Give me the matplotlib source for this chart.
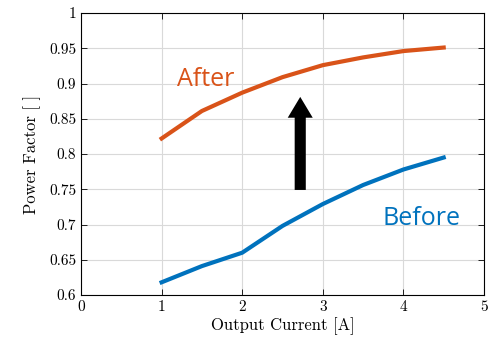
import numpy as np
import matplotlib
matplotlib.use("Agg")
import matplotlib.pyplot as plt

# data
current = [1.0, 1.5, 2.0, 2.5, 3.0, 3.5, 4.0, 4.5]
pf_before = [0.618, 0.641, 0.660, 0.698, 0.729, 0.756, 0.778, 0.795]
pf_after = [0.822, 0.861, 0.887, 0.909, 0.926, 0.937, 0.946, 0.951]
xticks = [0, 1, 2, 3, 4, 5]
yticks = [0.6, 0.65, 0.7, 0.75, 0.8, 0.85, 0.9, 0.95, 1]

blue = '#0072BD'
orange = '#D95319'

plt.rcParams['font.family'] = 'serif'
plt.rcParams['font.serif'] = ['cmr10']
plt.rcParams['axes.formatter.use_mathtext'] = True
plt.rcParams['mathtext.fontset'] = 'cm'

fig = plt.figure(figsize=(4.88, 3.41), dpi=100)
ax = fig.add_axes([81 / 488, 1 - 295 / 341, 403 / 488, 282 / 341])

ax.plot(current, pf_after, color=orange, linewidth=3, zorder=3)
ax.plot(current, pf_before, color=blue, linewidth=3, zorder=3)

ax.set_xlim(0, 5)
ax.set_ylim(0.6, 1)
ax.set_xticks(xticks)
ax.set_yticks(yticks)
ax.set_xticklabels([str(x) for x in xticks])
ax.set_yticklabels([f"{y:g}" for y in yticks])
ax.tick_params(direction='in', top=True, right=True, labelsize=11, length=4, width=0.6)
ax.grid(True, color='#d9d9d9', linewidth=0.8)
for s in ax.spines.values():
    s.set_linewidth(0.8)

ax.set_xlabel('Output Current [A]', fontsize=12, labelpad=3)
ax.set_ylabel('Power Factor [ ]', fontsize=12, labelpad=6)

# arrow showing the improvement
ax.annotate('', xy=(2.72, 0.881), xytext=(2.72, 0.749),
            arrowprops=dict(facecolor='black', edgecolor='none', width=8, headwidth=18, headlength=15),
            zorder=4)

ax.text(1.19, 0.906, 'After', color=orange, fontsize=18, family='Open Sans',
        ha='left', va='center')
ax.text(3.74, 0.708, 'Before', color=blue, fontsize=18, family='Open Sans',
        ha='left', va='center')

fig.savefig('out.png', dpi=100)
